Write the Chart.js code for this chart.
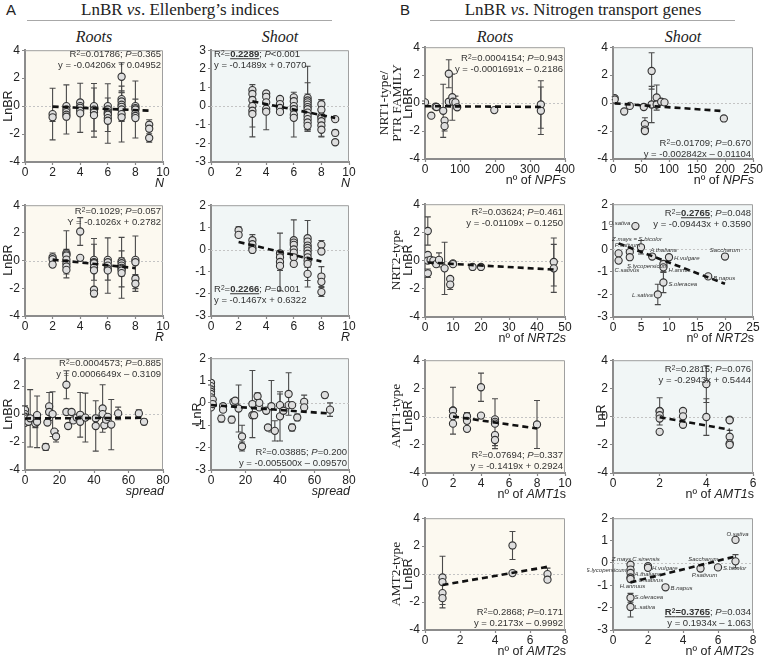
<!DOCTYPE html>
<html>
<head>
<meta charset="utf-8">
<script src="https://cdn.jsdelivr.net/npm/chart.js@4.4.1/dist/chart.umd.min.js"></script>
<style>
body { margin: 0; background: #fff; }
#fig { position: relative; width: 763px; height: 655px; overflow: hidden; font-family: "Liberation Sans", Arial, sans-serif; color: #222; }
#fig canvas { position: absolute; }
.t { position: absolute; white-space: nowrap; line-height: 1; }
.serif { font-family: "Liberation Serif", "Times New Roman", serif; }
sup { font-size: 0.7em; vertical-align: 0.4em; line-height: 0; }
</style>
</head>
<body>
<div id="fig"></div>
<script>
// values, one row per species: [x, LnBR (or LnR), sd]

// A - Ellenberg N
const rootsN = [
  [2,-0.57,1.85],[2,-0.8,0.3],
  [3,0,0.1],[3,-0.24,1.76],[3,-0.43,0.2],[3,-0.62,0.15],[3,-0.76,0],
  [4,0.26,0],[4,0,0.2],[4,-0.12,1.76],[4,-0.33,0],[4,-0.52,0.15],
  [5,0,0.15],[5,-0.25,1.54],[5,-0.3,1.92],[5,-0.45,0],[5,-0.65,0.15],
  [6,0,0.1],[6,-0.24,0.2],[6,-0.43,0],[6,-0.53,2.13],[6,-0.62,1.2],[6,-0.86,0],[6,-1.05,0.1],
  [7,2.1,1.0],[7,0.5,0.5],[7,0.33,0],[7,0.1,0.2],[7,-0.05,1.0],[7,-0.24,0],[7,-0.57,2.0],[7,-0.8,0.3],
  [8,0,0.5],[8,-0.14,0],[8,-0.24,2.04],[8,-0.52,0],[8,-0.71,0.15],[8,-0.86,0],
  [9,-1.33,0.35],[9,-1.62,0],[9,-2.28,0.3]
];
const shootN = [
  [3,0.86,0.1],[3,0.65,0.2],[3,0.33,0],[3,0,0],[3,-0.25,1.4],[3,-0.42,0.7],
  [4,0.68,0.05],[4,0.5,0.2],[4,0.2,0],[4,-0.15,0],[4,-0.3,0.97],
  [5,0.38,0],[5,0.11,0],[5,-0.1,0],[5,-0.31,0],
  [6,0.47,0.1],[6,0.26,0],[6,0,0.1],[6,-0.17,0.2],[6,-0.46,1.2],[6,-0.63,0],
  [7,0.44,1.7],[7,0.3,0.15],[7,0.2,0],[7,0.08,0],[7,-0.05,1.3],[7,-0.17,0],[7,-0.35,1.0],[7,-0.53,0],[7,-0.7,0.1],[7,-0.88,0],[7,-1.06,0.2],
  [8,0.1,0.25],[8,-0.2,0],[8,-0.56,0],[8,-0.65,1.0],[8,-0.81,0],[8,-1.04,0],[8,-1.27,0.35],
  [9,-0.7,0.1],[9,-1.44,0.15],[9,-1.94,0.12]
];

// A - Ellenberg R
const rootsR = [
  [2,0.24,0],[2,0.1,0.45],[2,-0.29,0],
  [3,0.55,0],[3,0.45,1.7],[3,0.36,0.45],[3,0.07,0],[3,-0.21,0],[3,-0.43,0],[3,-0.67,0.3],
  [4,2.1,1.0],[4,0.2,0],
  [5,0.05,0],[5,-0.12,1.3],[5,-0.19,0],[5,-0.5,2.1],[5,-0.7,0],[5,-2.1,0],[5,-2.38,0.2],
  [6,0.05,0],[6,-0.12,0],[6,-0.36,2.0],[6,-0.6,0],[6,-0.71,0.7],
  [7,-0.05,0],[7,-0.19,0.4],[7,-0.36,0.2],[7,-0.52,2.2],[7,-0.6,1.3],[7,-0.71,0],[7,-0.9,0.2],
  [8,0.05,0],[8,-0.12,1.9],[8,-1.31,0.3],[8,-1.67,0.55]
];
const shootR = [
  [2,0.87,0.15],[2,0.66,0.1],
  [3,0.42,0.25],[3,0.24,0],[3,0.07,0],[3,-0.02,0],
  [5,-0.17,0],[5,-0.35,0],[5,-0.56,1.3],[5,-0.74,0.2],
  [6,0.42,0],[6,0.31,1.03],[6,0.21,0],[6,0,0],[6,-0.14,0],[6,-0.35,0],[6,-0.65,0.1],
  [7,0.51,0],[7,0.36,0],[7,0.18,0],[7,0.07,0],[7,-0.05,0],[7,-0.19,1.5],[7,-0.35,0],[7,-0.5,0.3],[7,-0.65,0],[7,-1.1,0.3],
  [8,0.21,0.2],[8,-0.09,0],[8,-1.22,0.45],[8,-1.46,0],[8,-1.92,0.2]
];

// A - spread
const rootsSpread = [
  [0,0.29,0.3],[0,0,0],[0,-0.19,0],[0,-0.43,0],[0,-0.62,0],[1,-0.31,0],[2,-0.55,0],
  [3,-0.3,2.05],[6,-0.67,0.3],[7,-0.55,1.85],[7,-0.07,0],
  [12,-2.35,0.25],[13,-0.6,0],[14,0.55,1.0],[14,0.15,0],[16,0,1.6],[17,-1.25,0],[18,-1.6,0.4],
  [24,2.1,1.0],[24,0.15,0],[25,-0.85,0],[27,0.15,0],[28,-0.45,0],[30,-0.25,0],
  [32,-0.05,1.6],[32,-0.4,0],[32,-0.55,0],[35,-0.25,1.75],
  [41,-0.3,0],[41,-0.85,1.8],[45,0.4,1.7],[45,0,0],[46,-0.8,0],[47,-0.4,0],[48,-0.2,0],[50,-0.75,1.8],
  [54,0.05,0.45],[66,0.05,0.25],[69,-0.55,0.2]
];
const shootSpread = [
  [0,0.9,0.1],[0,0.75,0],[0,0.6,0],[0,0.5,0],[0,0.4,0],[0,0.25,0],[0,0.1,0],[0,0,0],[0,-0.1,0],[0,-0.2,0],
  [1,0.15,0],[1,-0.05,0],[6,-0.7,0.15],[7,-0.15,0],[7,-0.3,0.1],[12,-0.75,0.15],[13,0.05,0],[14,0.1,0],
  [16,-0.25,1.05],[18,-1.5,0.5],[18,-1.95,0.2],[24,-0.05,1.5],[24,-0.55,0],[25,-0.55,0],[27,0.3,0.15],
  [28,-0.2,0],[28,0,0],[32,-0.35,0.1],[33,-1.1,0],[35,-0.15,1.15],[37,-1.25,0.45],[40,-0.1,0.5],[40,-0.6,1.1],
  [42,-0.35,0],[45,0.4,0.95],[45,-0.1,0],[47,-0.1,0],[47,-1.1,0.15],[50,-0.65,0.15],[54,0.05,0.3],[54,-0.2,0],
  [66,0.35,0.12],[69,-0.3,0.3]
];

// B - gene numbers
const rootsNPF = [
  [0,0.05,0.1],[18,-0.9,0],[30,-0.25,0],[33,-0.28,0],[52,-0.55,1.9],[56,-1.25,0],[56,-1.65,0.35],
  [68,2.1,1.0],[68,0.1,0],[78,0.42,1.65],[80,0.1,0],[87,0.05,0.45],[92,-0.3,0],[198,-0.5,0],
  [331,-0.1,1.7],[331,-0.55,1.7]
];
const shootNPF = [
  [3,0.35,0.1],[3,0.25,0],[20,-0.6,0],[30,-0.2,0],[55,-0.28,0],[57,-1.5,0.45],[57,-1.9,0],[57,-2.0,0.1],
  [69,2.3,1.3],[69,-0.1,1.3],[78,0.4,0.9],[78,-0.1,0],[86,0.1,0.2],[92,0.05,0],[198,-1.1,0]
];
const rootsNRT2 = [
  [1,2.1,1.0],[1,0.4,0],[1,0,0],[1,-0.9,0.3],[2,0.05,0],[3,0,0],[4,-0.25,0],[5,0.05,0.5],
  [7,-0.55,1.85],[9,-1.3,0],[9,-1.7,0.35],[10,-0.2,0],[10,-0.25,0.1],[17,-0.45,0],[20,-0.45,0],
  [46,-0.1,1.7],[46,-0.55,1.7]
];
const shootNRT2 = [
  [4,1.03,0],[1,-0.18,0],[1,-0.5,0],[3,-0.12,0],[3,-0.35,0],[5,0.09,0.3],[7,-0.32,0],[10,-0.35,0],
  [9,-0.65,0],[9,-0.8,0.2],[9,-1.47,0.45],[8,-2.0,0.45],[17,-1.2,0],[20,-0.32,0]
];
const namesNRT2 = ['O.sativa','','C.sativus','P.sativum','','Z.mays = S.bicolor','A.thaliana','H.vulgare',
  'S.lycopersicum','H.annus','S.oleracea','L.sativa','B.napus','Saccharum'];
const rootsAMT1 = [
  [2,0.44,0],[2,0.42,1.66],[2,0.03,0],[2,-0.5,0],[3,0.03,0.25],[3,-0.3,0],[3,-0.87,0],[4,2.08,1.0],[4,0.07,0],
  [5,-0.2,0],[5,-0.37,0],[5,-0.5,1.77],[5,-1.31,0.2],[5,-1.66,0.4],[8,-0.56,1.7]
];
const shootAMT1 = [
  [2,0.4,0],[2,0.37,0.97],[2,0.1,0],[2,-0.14,0],[2,-1.08,0],[3,0.4,0],[3,0.02,0],[3,-0.58,0],
  [4,2.3,1.3],[4,-0.03,1.3],[5,-0.21,0],[5,-0.26,0],[5,-1.43,0.45],[5,-1.9,0],[5,-2.0,0]
];
const rootsAMT2 = [
  [1,-0.24,0],[1,-0.57,1.85],[1,-1.36,0],[1,-1.72,0.45],[5,2.05,1.0],[5,0.07,0],[7,0.0,0.43],[7,-0.4,0]
];
const shootAMT2 = [
  [1,-0.08,0],[1,-0.3,0],[1,-0.45,0.12],[1,-0.65,0],[1,-0.72,0.12],[2,-0.15,0],[2,-0.22,0.1],
  [3,-1.09,0],[5,-0.25,0],[6,-0.2,0],[7,1.03,0],[7,0.07,0.3],[1,-1.56,0.2],[1,-1.97,0.45]
];
const namesAMT2 = ['Z.mays','S.lycopersicum','A.thaliana','C.sativus','H.annuus','C.sinensis','H.vulgare',
  'B.napus','P.sativum','S.bicolor','O.sativa','Saccharum','S.oleracea','L.sativa'];

// linear fits: [slope, intercept, from x, to x]
const fits = {
  rootsN: [-0.04206, 0.04952, 2, 9],
  shootN: [-0.1489, 0.7070, 3, 9],
  rootsR: [-0.1026, 0.2782, 2, 8],
  shootR: [-0.1467, 0.6322, 2, 8],
  rootsSpread: [0.0006649, -0.3109, 0, 69],
  shootSpread: [-0.0055, -0.0957, 0, 69],
  rootsNPF: [-0.0001691, -0.2186, 0, 331],
  shootNPF: [-0.002842, -0.01104, 3, 198],
  rootsNRT2: [-0.01109, -0.1250, 1, 46],
  shootNRT2: [-0.09443, 0.3590, 1, 20],
  rootsAMT1: [-0.1419, 0.2924, 2, 8],
  shootAMT1: [-0.2943, 0.5444, 2, 5],
  rootsAMT2: [0.2173, -0.9992, 1, 7],
  shootAMT2: [0.1934, -1.063, 1, 7]
};

const ROOT_BG = '#fcf9f0';
const SHOOT_BG = '#f1f6f6';

// where the species names sit relative to their circle: [dx, dy, align]
const placeNRT2 = {
  'O.sativa': [-5,-3,'right'], 'C.sativus': [-4,10,'left'], 'P.sativum': [-15,-7,'left'],
  'Z.mays = S.bicolor': [-4,-8,'center'], 'A.thaliana': [-2,-6,'left'], 'H.vulgare': [5,1,'left'],
  'S.lycopersicum': [-16,2,'center'], 'H.annus': [5,3,'left'], 'S.oleracea': [5,2,'left'],
  'L.sativa': [-5,1,'right'], 'B.napus': [5,2,'left'], 'Saccharum': [0,-6,'center']
};
const placeAMT2 = {
  'Z.mays': [-9,-5,'center'], 'C.sinensis': [-2,-7,'center'], 'S.lycopersicum': [-4,1,'right'],
  'A.thaliana': [4,1,'left'], 'H.vulgare': [4,0,'left'], 'C.sativus': [8,3,'left'],
  'H.annuus': [2,7,'center'], 'B.napus': [5,1,'left'], 'P.sativum': [4,7,'center'],
  'S.bicolor': [5,1,'left'], 'Saccharum': [-17,-2,'right'], 'O.sativa': [2,-6,'center'],
  'S.oleracea': [4,0,'left'], 'L.sativa': [4,0,'left']
};

const R2 = 'R<sup>2</sup>=';
const panels = [
  {id:'rootsN', pts:rootsN, box:[25,49,138,113], bg:ROOT_BG, x:[0,10,2], y:[-4,4,2], xTitle:'<i>N</i>',
   stats:[R2+'0.01786; <i>P</i>=0.365','y = -0.04206x + 0.04952'], at:['right',5], yLab:[['LnBR',8]]},
  {id:'shootN', pts:shootN, box:[211,49,138,113], bg:SHOOT_BG, x:[0,10,2], y:[-3,3,1], xTitle:'<i>N</i>',
   stats:[R2+'<b><u>0.2289</u></b>; <i>P</i>&lt;0.001','y = -0.1489x + 0.7070'], at:['left',5], yLab:[]},
  {id:'rootsR', pts:rootsR, box:[25,204,138,112], bg:ROOT_BG, x:[0,10,2], y:[-4,4,2], xTitle:'<i>R</i>',
   stats:[R2+'0.1029; <i>P</i>=0.057','Y = -0.1026x + 0.2782'], at:['right',7], yLab:[['LnBR',8]]},
  {id:'shootR', pts:shootR, box:[211,204,138,112], bg:SHOOT_BG, x:[0,10,2], y:[-3,2,1], xTitle:'<i>R</i>',
   stats:[R2+'<b><u>0.2266</u></b>; <i>P</i>=0.001','y = -0.1467x + 0.6322'], at:['left',-27], yLab:[]},
  {id:'rootsSpread', pts:rootsSpread, box:[25,357,138,113], bg:ROOT_BG, x:[0,80,20], y:[-4,4,2], xTitle:'<i>spread</i>',
   stats:[R2+'0.0004573; <i>P</i>=0.885','y = 0.0006649x – 0.3109'], at:['right',6], yLab:[['LnBR',8]]},
  {id:'shootSpread', pts:shootSpread, box:[211,357,138,113], bg:SHOOT_BG, x:[0,80,20], y:[-3,2,1], xTitle:'<i>spread</i>',
   stats:[R2+'0.03885; <i>P</i>=0.200','y = -0.005500x – 0.09570'], at:['right',-18], yLab:[['LnR',197]]},

  {id:'rootsNPF', pts:rootsNPF, box:[425,46,140,113], bg:ROOT_BG, x:[0,400,100], y:[-4,4,2], xTitle:'nº of <i>NPFs</i>',
   stats:[R2+'0.0004154; <i>P</i>=0.943','y = -0.0001691x – 0.2186'], at:['right',12],
   yLab:[['NRT1-type/',384,1],['PTR FAMILY',397,1],['LnBR',408]]},
  {id:'shootNPF', pts:shootNPF, box:[613,46,140,113], bg:SHOOT_BG, x:[0,250,50], y:[-4,4,2], xTitle:'nº of <i>NPFs</i>',
   stats:[R2+'0.01709; <i>P</i>=0.670','y = -0.002842x – 0.01104'], at:['right',-16], yLab:[]},
  {id:'rootsNRT2', pts:rootsNRT2, box:[425,203,140,114], bg:ROOT_BG, x:[0,50,10], y:[-4,4,2], xTitle:'nº of <i>NRT2s</i>',
   stats:[R2+'0.03624; <i>P</i>=0.461','y = -0.01109x – 0.1250'], at:['right',9],
   yLab:[['NRT2-type',396,1],['LnBR',408]]},
  {id:'shootNRT2', pts:shootNRT2, names:namesNRT2, place:placeNRT2, box:[613,203,140,114], bg:SHOOT_BG, x:[0,25,5], y:[-3,2,1],
   xTitle:'nº of <i>NRT2</i>s', stats:[R2+'<b><u>0.2765</u></b>; <i>P</i>=0.048','y = -0.09443x + 0.3590'], at:['right',10], yLab:[]},
  {id:'rootsAMT1', pts:rootsAMT1, box:[425,359,140,114], bg:ROOT_BG, x:[0,10,2], y:[-4,4,2], xTitle:'nº of <i>AMT1</i>s',
   stats:[R2+'0.07694; <i>P</i>=0.337','y = -0.1419x + 0.2924'], at:['right',-18],
   yLab:[['AMT1-type',396,1],['LnBR',408]]},
  {id:'shootAMT1', pts:shootAMT1, box:[613,359,140,114], bg:SHOOT_BG, x:[0,6,2], y:[-4,4,2], xTitle:'nº of <i>AMT1</i>s',
   stats:[R2+'0.2815; <i>P</i>=0.076','y = -0.2943x + 0.5444'], at:['right',10], yLab:[['LnR',601]]},
  {id:'rootsAMT2', pts:rootsAMT2, box:[425,517,140,113], bg:ROOT_BG, x:[0,8,2], y:[-4,4,2], xTitle:'nº of <i>AMT2</i>s',
   stats:[R2+'0.2868; <i>P</i>=0.171','y = 0.2173x – 0.9992'], at:['right',-18],
   yLab:[['AMT2-type',396,1],['LnBR',408]]},
  {id:'shootAMT2', pts:shootAMT2, names:namesAMT2, place:placeAMT2, box:[613,517,140,113], bg:SHOOT_BG, x:[0,8,2], y:[-3,2,1],
   xTitle:'nº of <i>AMT2</i>s', stats:['<b><u>R<sup>2</sup>=0.3765</u></b>; <i>P</i>=0.034','y = 0.1934x – 1.063'], at:['right',-18], yLab:[]}
];

const fig = document.getElementById('fig');

function put(html, x, y, o) {
  o = o || {};
  const d = document.createElement('div');
  d.className = 't' + (o.serif ? ' serif' : '');
  d.innerHTML = html;
  d.style.left = x + 'px';
  d.style.top = y + 'px';
  d.style.fontSize = (o.size || 12) + 'px';
  if (o.color) d.style.color = o.color;
  const tx = o.align === 'right' ? '-100%' : o.align === 'left' ? '0' : '-50%';
  d.style.transform = 'translate(' + tx + ',-50%)' + (o.rot ? ' rotate(-90deg)' : '');
  fig.appendChild(d);
}

function hline(x1, x2, y) {
  const d = document.createElement('div');
  d.style.cssText = 'position:absolute;left:' + x1 + 'px;top:' + y + 'px;width:' + (x2 - x1) + 'px;height:1px;background:#a8a8a8;';
  fig.appendChild(d);
}

function axis(r, isX) {
  return {
    type: 'linear', min: r[0], max: r[1],
    ticks: { stepSize: r[2], autoSkip: false, maxRotation: 0, padding: isX ? 0 : 2,
             color: '#222', font: { family: 'Liberation Sans', size: 12 } },
    grid: { drawOnChartArea: false, color: '#888', tickColor: '#888', tickLength: 3, tickWidth: 1.2 },
    border: { color: '#8c8c8c', width: 2 },
    afterFit: s => { if (isX) s.height = 22; else s.width = 26; }
  };
}

function deco(p) {
  return {
    id: 'deco',
    beforeDraw(c) {
      const a = c.chartArea, g = c.ctx;
      g.save();
      g.fillStyle = p.bg;
      g.fillRect(a.left, a.top, a.width, a.height);
      g.restore();
    },
    beforeDatasetsDraw(c) {
      const a = c.chartArea, g = c.ctx, xs = c.scales.x, ys = c.scales.y;
      g.save();
      g.strokeStyle = '#a0a0a0';
      g.lineWidth = 1;
      g.beginPath();
      g.moveTo(a.left, a.top + 0.5);
      g.lineTo(a.right - 0.5, a.top + 0.5);
      g.lineTo(a.right - 0.5, a.bottom);
      g.stroke();
      // dotted zero line
      const y0 = Math.round(ys.getPixelForValue(0)) + 0.5;
      g.strokeStyle = '#c4c4c4';
      g.setLineDash([2, 2]);
      g.beginPath();
      g.moveTo(a.left, y0);
      g.lineTo(a.right, y0);
      g.stroke();
      g.setLineDash([]);
      // error bars (sd)
      g.strokeStyle = '#4a4a4a';
      g.lineWidth = 1.1;
      c.data.datasets[0].data.forEach(d => {
        if (!d.e) return;
        const px = xs.getPixelForValue(d.x);
        const hi = ys.getPixelForValue(d.y + d.e);
        const lo = ys.getPixelForValue(d.y - d.e);
        g.beginPath();
        g.moveTo(px, hi); g.lineTo(px, lo);
        g.moveTo(px - 3, hi); g.lineTo(px + 3, hi);
        g.moveTo(px - 3, lo); g.lineTo(px + 3, lo);
        g.stroke();
      });
      g.restore();
    },
    afterDatasetsDraw(c) {
      if (!p.place) return;
      const g = c.ctx, xs = c.scales.x, ys = c.scales.y;
      g.save();
      g.font = 'italic 6px "Liberation Sans"';
      g.fillStyle = '#333';
      g.textBaseline = 'middle';
      c.data.datasets[0].data.forEach(d => {
        const pl = p.place[d.name];
        if (!pl) return;
        g.textAlign = pl[2];
        g.fillText(d.name, xs.getPixelForValue(d.x) + pl[0], ys.getPixelForValue(d.y) + pl[1]);
      });
      g.restore();
    }
  };
}

function makePanel(p) {
  const [l, t, w, h] = p.box;
  const W = w + 42, H = h + 30;
  const cv = document.createElement('canvas');
  cv.width = W; cv.height = H;
  cv.style.left = (l - 26) + 'px';
  cv.style.top = (t - 8) + 'px';
  cv.style.width = W + 'px';
  cv.style.height = H + 'px';
  fig.appendChild(cv);

  const pts = p.pts.map((d, i) => ({ x: d[0], y: d[1], e: d[2], name: p.names ? p.names[i] : '' }));
  const f = fits[p.id];
  const line = [{ x: f[2], y: f[0] * f[2] + f[1] }, { x: f[3], y: f[0] * f[3] + f[1] }];

  new Chart(cv, {
    type: 'scatter',
    data: {
      datasets: [
        { data: pts, order: 1, pointRadius: 3.6, pointHoverRadius: 3.6,
          pointBackgroundColor: '#dedede', pointBorderColor: '#333', pointBorderWidth: 1.1 },
        { data: line, order: 0, showLine: true, pointRadius: 0, borderColor: '#111',
          borderWidth: 2.6, borderDash: [6, 4] }
      ]
    },
    options: {
      responsive: false,
      animation: false,
      devicePixelRatio: 1,
      layout: { padding: { top: 8, right: 16, left: 0, bottom: 0 } },
      plugins: { legend: { display: false }, tooltip: { enabled: false } },
      scales: { x: axis(p.x, true), y: axis(p.y, false) }
    },
    plugins: [deco(p)]
  });

  // text around the plot
  const r = l + w, b = t + h;
  put(p.xTitle, r + 1, b + 21, { size: 12.5, align: 'right' });
  const sx = p.at[0] === 'right' ? r - 2 : l + 3;
  const sy = p.at[1] >= 0 ? t + p.at[1] : b + p.at[1];
  p.stats.forEach((s, i) => put(s, sx, sy + i * 11, { size: 9.5, align: p.at[0], color: '#333' }));
  p.yLab.forEach(q => put(q[0], q[1], t + h / 2, { size: q[2] ? 13.5 : 12.5, serif: !!q[2], rot: true }));
}

// headings
put('A', 11, 9, { size: 15 });
put('LnBR <i>vs</i>. Ellenberg’s indices', 180, 9, { size: 17, serif: true });
hline(27, 332, 20);
put('B', 405, 9, { size: 15 });
put('LnBR <i>vs</i>. Nitrogen transport genes', 583, 9, { size: 17, serif: true });
hline(430, 735, 20);
put('<i>Roots</i>', 94, 37, { size: 16, serif: true });
put('<i>Shoot</i>', 280, 37, { size: 16, serif: true });
put('<i>Roots</i>', 495, 37, { size: 16, serif: true });
put('<i>Shoot</i>', 683, 37, { size: 16, serif: true });

panels.forEach(makePanel);
</script>
</body>
</html>
